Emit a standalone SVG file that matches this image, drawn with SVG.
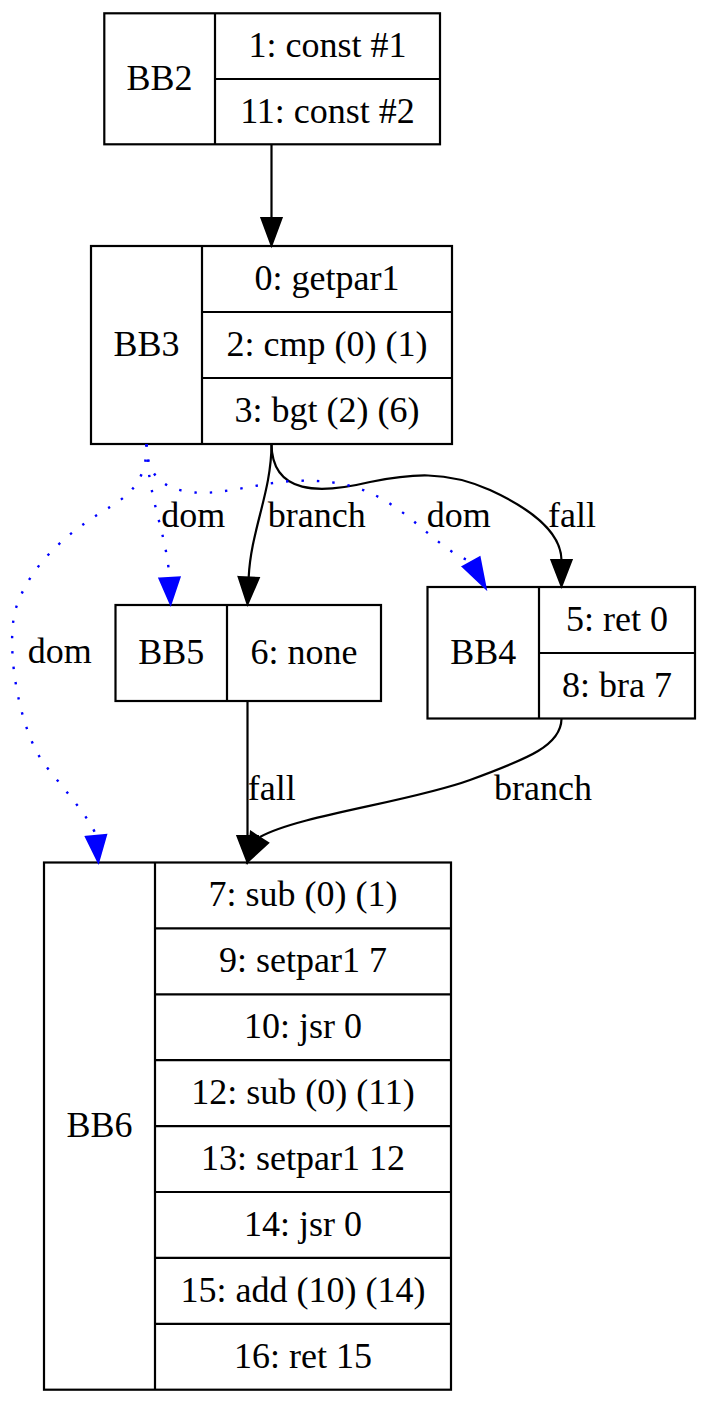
<svg xmlns="http://www.w3.org/2000/svg" width="706" height="1404" viewBox="0 0 706 1404">
<style>
  .box { fill: none; stroke: #000; stroke-width: 2.2; }
  .ln { stroke: #000; stroke-width: 2.2; fill: none; }
  text { font-family: "Liberation Serif", "Times New Roman", serif; font-size: 36px; fill: #000; text-anchor: middle; }
  .e { fill: none; stroke: #000; stroke-width: 2.2; }
  .d { fill: none; stroke: #0000ff; stroke-width: 2.4; stroke-dasharray: 2.4 13; }
  .ah { fill: #000; stroke: #000; stroke-width: 2.2; }
  .ahd { fill: #0000ff; stroke: #0000ff; stroke-width: 2.2; }
</style>
<rect width="706" height="1404" fill="#fff"/>

<g id="BB2">
  <rect class="box" x="104.3" y="13.3" width="335.7" height="131"/>
  <line class="ln" x1="215" y1="13.3" x2="215" y2="144.3"/>
  <line class="ln" x1="215" y1="79" x2="440" y2="79"/>
  <text x="159.6" y="89.6">BB2</text>
  <text x="327.5" y="57">1: const #1</text>
  <text x="327.5" y="122.6">11: const #2</text>
</g>

<g id="BB3">
  <rect class="box" x="91" y="246" width="361" height="198"/>
  <line class="ln" x1="202" y1="246" x2="202" y2="444"/>
  <line class="ln" x1="202" y1="312" x2="452" y2="312"/>
  <line class="ln" x1="202" y1="378" x2="452" y2="378"/>
  <text x="146.5" y="355.8">BB3</text>
  <text x="327" y="289.8">0: getpar1</text>
  <text x="327" y="355.8">2: cmp (0) (1)</text>
  <text x="327" y="421.8">3: bgt (2) (6)</text>
</g>

<g id="BB5">
  <rect class="box" x="115.5" y="605" width="265.5" height="96"/>
  <line class="ln" x1="227" y1="605" x2="227" y2="701"/>
  <text x="171.2" y="663.8">BB5</text>
  <text x="304" y="663.8">6: none</text>
</g>

<g id="BB4">
  <rect class="box" x="427.5" y="587" width="267.5" height="131.5"/>
  <line class="ln" x1="539" y1="587" x2="539" y2="718.5"/>
  <line class="ln" x1="539" y1="653" x2="695" y2="653"/>
  <text x="483.2" y="663.6">BB4</text>
  <text x="617" y="630.8">5: ret 0</text>
  <text x="617" y="696.6">8: bra 7</text>
</g>

<g id="BB6">
  <rect class="box" x="44" y="862.5" width="407" height="527.2"/>
  <line class="ln" x1="155" y1="862.5" x2="155" y2="1389.7"/>
  <line class="ln" x1="155" y1="928.4" x2="451" y2="928.4"/>
  <line class="ln" x1="155" y1="994.3" x2="451" y2="994.3"/>
  <line class="ln" x1="155" y1="1060.2" x2="451" y2="1060.2"/>
  <line class="ln" x1="155" y1="1126.1" x2="451" y2="1126.1"/>
  <line class="ln" x1="155" y1="1192" x2="451" y2="1192"/>
  <line class="ln" x1="155" y1="1257.9" x2="451" y2="1257.9"/>
  <line class="ln" x1="155" y1="1323.8" x2="451" y2="1323.8"/>
  <text x="99.5" y="1136.9">BB6</text>
  <text x="303" y="906.3">7: sub (0) (1)</text>
  <text x="303" y="972.2">9: setpar1 7</text>
  <text x="303" y="1038.1">10: jsr 0</text>
  <text x="303" y="1104">12: sub (0) (11)</text>
  <text x="303" y="1169.9">13: setpar1 12</text>
  <text x="303" y="1235.8">14: jsr 0</text>
  <text x="303" y="1301.7">15: add (10) (14)</text>
  <text x="303" y="1367.6">16: ret 15</text>
</g>

<g id="edges">
  <!-- BB2 -> BB3 -->
  <path class="e" d="M271.5,144.5 L271.5,218"/>
  <polygon class="ah" points="261.5,218 281.5,218 271.5,245"/>

  <!-- BB3 -> BB5 branch -->
  <path class="e" d="M271.5,444 C271.5,492 251,530 248.7,577"/>
  <polygon class="ah" points="238.7,577 258.7,578 247.5,604"/>
  <text x="316.8" y="526.7">branch</text>

  <!-- BB3 -> BB4 fall -->
  <path class="e" d="M271.5,444 C272,495 320,494 370,482 C410,474 445,470 490,490 C525,506 561,530 561.5,560"/>
  <polygon class="ah" points="551.5,560 571.5,560 561.5,586"/>
  <text x="572" y="526.7">fall</text>

  <!-- BB3 -> BB5 dom -->
  <path class="d" d="M146.5,444 C148,500 166,530 169.5,578"/>
  <polygon class="ahd" points="159.5,578.5 179.5,577.5 170.6,604"/>
  <text x="193.2" y="526.7">dom</text>

  <!-- BB3 -> BB4 dom -->
  <path class="d" d="M146.5,444 C147,478 165,490 195,492.5 C225,495 265,481 300,480.7 C345,480 370,490 395,507 C420,524 445,552 470,561"/>
  <polygon class="ahd" points="462.8,566.6 479.6,557.4 485.6,588"/>
  <text x="458.7" y="526.7">dom</text>

  <!-- BB3 -> BB6 dom -->
  <path class="d" d="M146.5,444 C147,475 135,492 110,507 C80,525 35,555 17,605 C4,640 18,730 45,765 C60,784 93,822 96,836"/>
  <polygon class="ahd" points="86,836.9 106,835.1 98.3,862"/>
  <text x="59.7" y="663.3">dom</text>

  <!-- BB5 -> BB6 fall -->
  <path class="e" d="M247.5,701 L247.5,836"/>
  <polygon class="ah" points="237.5,836 257.5,836 247.5,862"/>
  <text x="271.7" y="800">fall</text>

  <!-- BB4 -> BB6 branch -->
  <path class="e" d="M561.5,719 C561,745 530,758 470,780 C410,802 300,815 260,837"/>
  <polygon class="ah" points="251,832 268,843 247.3,862"/>
  <text x="543" y="800">branch</text>
</g>
</svg>
